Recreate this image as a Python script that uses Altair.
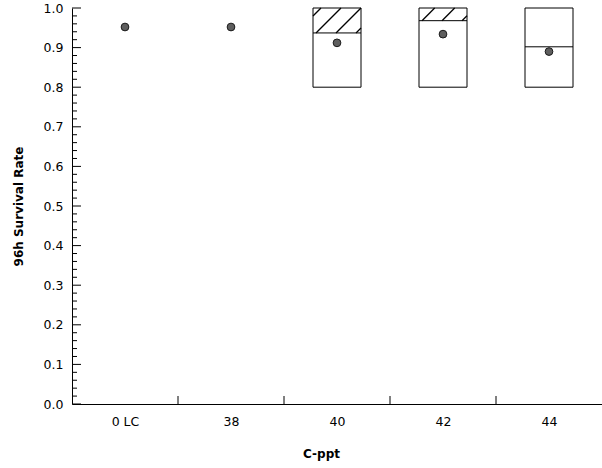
import json
import altair as alt
import pandas as pd

# Treatment groups and observed 96h survival
categories = ["0 LC", "38", "40", "42", "44"]
survival = [0.952, 0.952, 0.912, 0.934, 0.890]

# Acceptance boxes for the exposed groups
box_groups = ["40", "42", "44"]
box_low = [0.80, 0.80, 0.80]
box_high = [1.00, 1.00, 1.00]
box_split = [0.937, 0.968, 0.902]
box_hatched = [True, True, False]

# Axis ticks
y_major = [round(0.1 * i, 1) for i in range(11)]
y_minor = [round(0.02 * i, 2) for i in range(51) if i % 5 != 0]
x_ticks = [1.5, 2.5, 3.5, 4.5]

W, H = 530, 396
X_DOMAIN = [0.5, 5.5]
PX_X = W / (X_DOMAIN[1] - X_DOMAIN[0])   # pixels per category unit
PX_Y = H / 1.0                           # pixels per survival unit
BOX_HALF = 24 / PX_X
HATCH_GAP = 20
HATCH_PHASE = 3
FONT = "DejaVu Sans"

pos = {c: i + 1 for i, c in enumerate(categories)}

points = pd.DataFrame({"x": [pos[c] for c in categories], "rate": survival})

boxes = pd.DataFrame({
    "xc": [pos[g] for g in box_groups],
    "lo": box_low, "hi": box_high, "split": box_split,
})
boxes["x0"] = boxes["xc"] - BOX_HALF
boxes["x1"] = boxes["xc"] + BOX_HALF

# Diagonal hatch segments in the band above the split line, clipped to each box
hatch_rows = []
for g, lo_split, hi, flag in zip(box_groups, box_split, box_high, box_hatched):
    if not flag:
        continue
    left = pos[g] - BOX_HALF
    bw = 2 * BOX_HALF * PX_X
    bh = (hi - lo_split) * PX_Y
    k = HATCH_PHASE - HATCH_GAP * 4
    while k < bw:
        xa, xb = max(0.0, k), min(bw, k + bh)
        if xb > xa:
            hatch_rows.append({
                "x": left + xa / PX_X, "x2": left + xb / PX_X,
                "y": lo_split + (xa - k) / PX_Y, "y2": lo_split + (xb - k) / PX_Y,
            })
        k += HATCH_GAP
hatch = pd.DataFrame(hatch_rows)

label_expr = f"{json.dumps(categories)}[datum.value - 1]"

x_scale = alt.Scale(domain=X_DOMAIN, nice=False, zero=False)
y_scale = alt.Scale(domain=[0, 1], nice=False)

x_axis = alt.Axis(values=[1, 2, 3, 4, 5], labelExpr=label_expr, title="C-ppt",
                  labelPadding=11, titlePadding=21, labelAngle=0,
                  titleX=249, titleAnchor="start", titleAlign="center")
y_axis = alt.Axis(values=y_major, format=".1f", title="96h Survival Rate",
                  labelPadding=9, titlePadding=18)


def xq(field):
    return alt.X(field, type="quantitative", scale=x_scale, axis=x_axis)


def yq(field):
    return alt.Y(field, type="quantitative", scale=y_scale, axis=y_axis)


rects = alt.Chart(boxes).mark_rect(fill="white", stroke="black", strokeWidth=1).encode(
    x=xq("x0"), x2="x1", y=yq("lo"), y2="hi",
)

splits = alt.Chart(boxes).mark_rule(color="black", strokeWidth=1).encode(
    x=xq("x0"), x2="x1", y=yq("split"),
)

hatch_lines = alt.Chart(hatch).mark_rule(color="black", strokeWidth=1.3).encode(
    x=xq("x"), x2="x2", y=yq("y"), y2="y2",
)

dots = alt.Chart(points).mark_point(
    shape="circle", filled=True, size=60, fill="#5e5e5e", stroke="#1a1a1a",
    strokeWidth=1, opacity=1,
).encode(x=xq("x"), y=yq("rate"))

# Inward-pointing axis ticks
ymaj = alt.Chart(pd.DataFrame({"v": y_major})).mark_rule(color="black").encode(
    y=yq("v"), x=alt.value(0), x2=alt.value(9))
ymin = alt.Chart(pd.DataFrame({"v": y_minor})).mark_rule(color="black").encode(
    y=yq("v"), x=alt.value(0), x2=alt.value(5))
xt = alt.Chart(pd.DataFrame({"v": x_ticks})).mark_rule(color="black").encode(
    x=xq("v"), y=alt.value(H), y2=alt.value(H - 8))

chart = alt.layer(rects, splits, hatch_lines, dots, ymaj, ymin, xt).properties(
    width=W, height=H,
    padding={"left": 72, "top": 8, "right": 0, "bottom": 64},
    autosize="none",
    background="white",
).configure_view(stroke=None).configure_axis(
    ticks=False, grid=False, labelOverlap=False,
    labelFont=FONT, labelFontSize=12.5, labelColor="black",
    titleFont=FONT, titleFontSize=12, titleFontWeight="bold", titleColor="black",
    domainColor="black", domainWidth=1,
)

chart.save("out.html", embed_options={"renderer": "svg", "actions": False})
